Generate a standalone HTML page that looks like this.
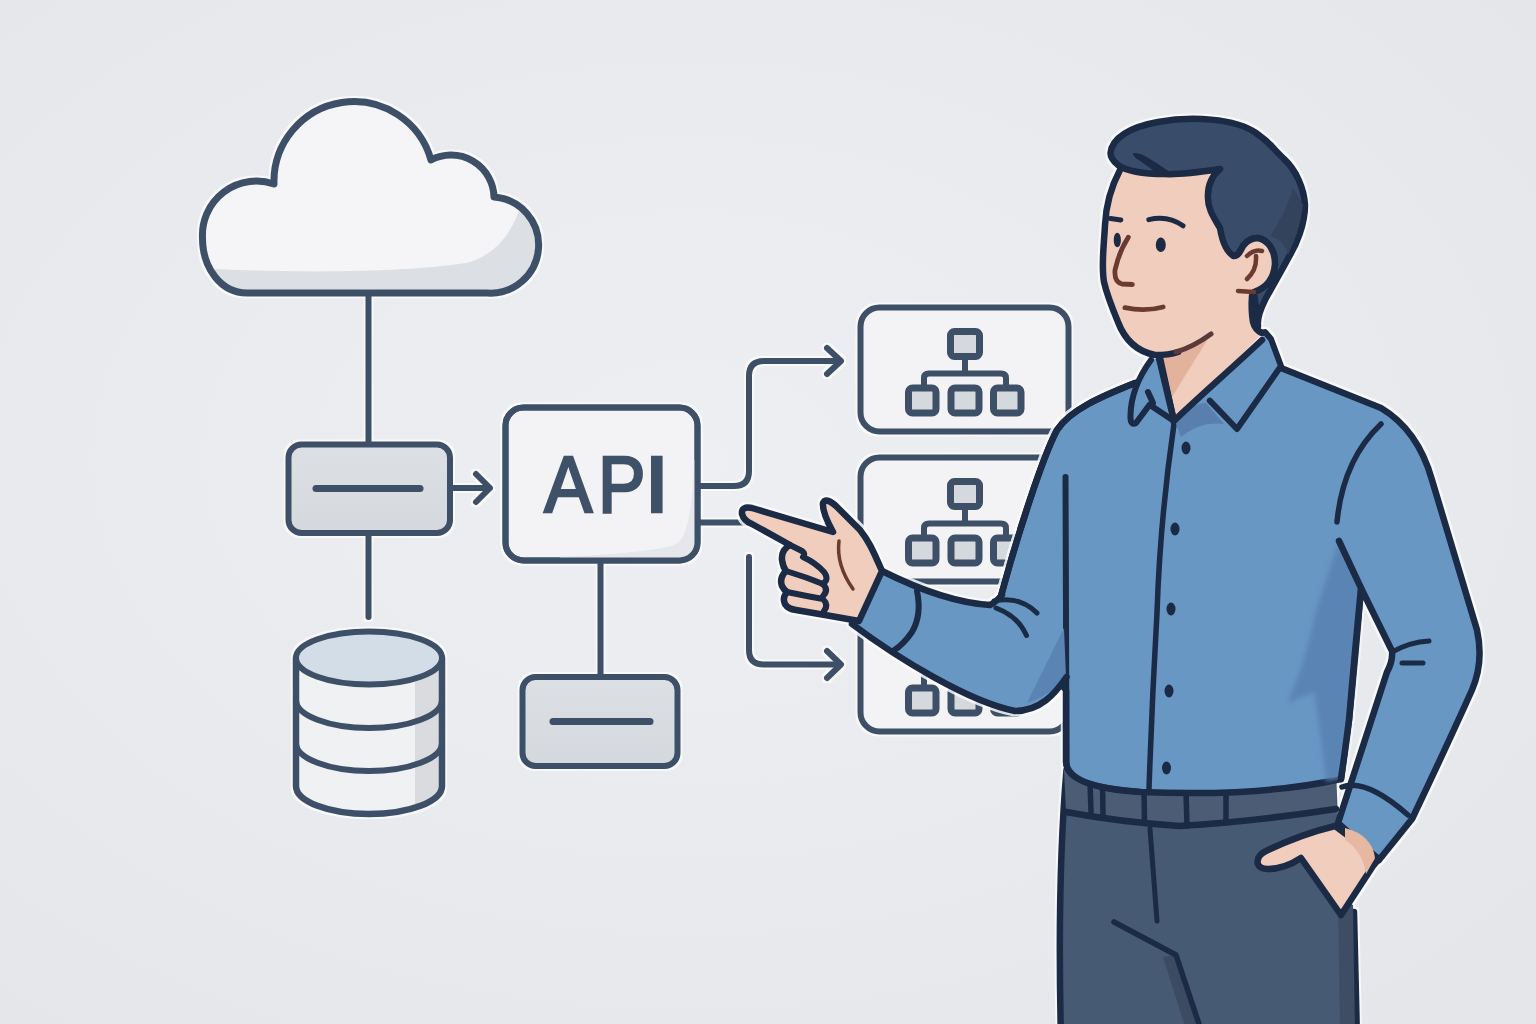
<!DOCTYPE html>
<html><head><meta charset="utf-8">
<style>
html,body{margin:0;padding:0;width:1536px;height:1024px;overflow:hidden;background:#e9eaed;}
svg{display:block;}
</style></head>
<body>
<svg width="1536" height="1024" viewBox="0 0 1536 1024">
<defs>
<radialGradient id="bg" cx="0.45" cy="0.45" r="0.75">
<stop offset="0" stop-color="#eeeff2"/>
<stop offset="1" stop-color="#e5e6ea"/>
</radialGradient>
<clipPath id="cloudclip"><path d="M247 293 C221 293 202.5 268 202.5 238 A54 54 0 0 1 274 184 A80 80 0 0 1 431 160 A43 43 0 0 1 494 197 A48 48 0 0 1 487 293 Z"/></clipPath>
<linearGradient id="graybox" x1="0" y1="0" x2="0" y2="1">
<stop offset="0" stop-color="#dcdfe3"/><stop offset="1" stop-color="#d5d8dc"/>
</linearGradient>
<clipPath id="dbclip"><path d="M296 658 L296 786 A73 28 0 0 0 442 786 L442 658 Z"/></clipPath>
<filter id="halo" x="-2%" y="-2%" width="104%" height="104%" color-interpolation-filters="sRGB">
<feMorphology in="SourceAlpha" operator="dilate" radius="1.6" result="d"/>
<feGaussianBlur in="d" stdDeviation="0.6" result="db"/>
<feFlood flood-color="#fbfbfc" flood-opacity="0.85"/>
<feComposite in2="db" operator="in" result="w"/>
<feMerge><feMergeNode in="w"/><feMergeNode in="SourceGraphic"/></feMerge>
</filter>
<clipPath id="apiclip"><rect x="505.5" y="407.5" width="192" height="153" rx="18"/></clipPath>
<filter id="soft" x="-20%" y="-20%" width="140%" height="140%"><feGaussianBlur stdDeviation="2.5"/></filter>
</defs>
<rect x="0" y="0" width="1536" height="1024" fill="url(#bg)"/>

<!-- ============ DIAGRAM ============ -->
<g fill="none" stroke="#3d5068" stroke-width="6" stroke-linecap="round" stroke-linejoin="round" filter="url(#halo)">
  <!-- cloud -->
  <path d="M247 293 C221 293 202.5 268 202.5 238 A54 54 0 0 1 274 184 A80 80 0 0 1 431 160 A43 43 0 0 1 494 197 A48 48 0 0 1 487 293 Z" fill="#f5f5f7" stroke="none"/>
  <path clip-path="url(#cloudclip)" d="M200 268 C300 274 420 272 470 262 C500 252 512 230 520 208 L560 200 L560 320 L190 320 Z" fill="#dcdfe3" stroke="none"/>
  <path d="M247 293 C221 293 202.5 268 202.5 238 A54 54 0 0 1 274 184 A80 80 0 0 1 431 160 A43 43 0 0 1 494 197 A48 48 0 0 1 487 293 Z" stroke-width="7"/>

  <!-- cloud to gray box line -->
  <line x1="368.5" y1="296" x2="368.5" y2="444"/>
  <line x1="368.5" y1="536" x2="368.5" y2="617"/>
  <!-- gray box 1 -->
  <rect x="288.5" y="444.5" width="161.5" height="88.5" rx="13" fill="url(#graybox)"/>
  <line x1="316" y1="488.5" x2="420" y2="488.5" stroke-width="7"/>
  <!-- arrow to API -->
  <line x1="453" y1="488" x2="489" y2="488"/>
  <path d="M476 474 L490 488 L476 502"/>

  <!-- database -->
  <path d="M296 658 L296 786 A73 28 0 0 0 442 786 L442 658" fill="#f0f1f3" stroke="none"/>
  <rect x="415" y="670" width="30" height="150" fill="#d9dbdf" stroke="none" clip-path="url(#dbclip)"/>
  <path d="M296 658 L296 786 A73 28 0 0 0 442 786 L442 658" fill="none" stroke-width="6.5"/>
  <ellipse cx="369" cy="658" rx="73" ry="26.5" fill="#d2dde7"/>
  <path d="M296 700 A73 28 0 0 0 442 700"/>
  <path d="M296 743 A73 28 0 0 0 442 743"/>

  <!-- API box -->
  <rect x="505.5" y="407.5" width="192" height="153" rx="18" fill="#f3f3f5"/>
  <path clip-path="url(#apiclip)" d="M694 460 Q692 532 678 543 Q665 552 560 557 L560 575 L705 575 L705 460 Z" fill="#e5e7ea" stroke="none"/>
  <rect x="505.5" y="407.5" width="192" height="153" rx="18" fill="none"/>
  <g font-family="Liberation Sans, sans-serif" font-size="80" fill="#3f5169" stroke="#3f5169" stroke-width="2.6" stroke-linejoin="miter">
    <text transform="translate(543.2 511.5) scale(0.9 1)" x="1.3" y="0">A</text>
    <text transform="translate(602.8 511.5) scale(0.89 1)" x="-5.5" y="0">P</text>
    <text transform="translate(651 511.5) scale(1.15 1)" x="-6" y="0">I</text>
  </g>
  <line x1="600.5" y1="563" x2="600.5" y2="676"/>
  <rect x="522.5" y="677" width="155" height="89" rx="13" fill="url(#graybox)"/>
  <line x1="553" y1="721.5" x2="650" y2="721.5" stroke-width="7"/>

  <!-- connectors right -->
  <path d="M700 486 L734 486 Q749 486 749 471 L749 376 Q749 361 764 361 L840 361"/>
  <path d="M827 348 L841 361 L827 374"/>
  <line x1="700" y1="522.5" x2="750" y2="522.5"/>
  <path d="M749 557 L749 650 Q749 664.5 764 664.5 L840 664.5"/>
  <path d="M827 651 L841 664.5 L827 678"/>

  <!-- org boxes -->
  <g id="orgbox">
    <rect x="860.5" y="307.5" width="208" height="124" rx="19" fill="#f3f3f5"/>
    <rect x="950.5" y="331.5" width="29" height="25" rx="4" fill="#d5d9de" stroke-width="7"/>
    <path d="M965 357 L965 373.5 M924 388 L924 378 Q924 373.5 929 373.5 L1001 373.5 Q1006 373.5 1006 378 L1006 388" />
    <rect x="908.5" y="388" width="27.5" height="25" rx="4" fill="#d5d9de" stroke-width="7"/>
    <rect x="951" y="388" width="28" height="25" rx="4" fill="#d5d9de" stroke-width="7"/>
    <rect x="993.5" y="388" width="27.5" height="25" rx="4" fill="#d5d9de" stroke-width="7"/>
  </g>
  <use href="#orgbox" y="150"/>
  <use href="#orgbox" y="300"/>
</g>

<!-- ============ PERSON ============ -->
<g id="person" stroke="#1b2a45" stroke-width="6.5" stroke-linecap="round" stroke-linejoin="round" filter="url(#halo)">
  <!-- pants -->
  <path d="M1336 770 L1340 868 Q1345 880 1354 912 L1357 1040 L1061 1040 Q1057 880 1066.5 770" fill="#475a73" stroke="none"/>
  <path d="M1354 912 L1357 1040 M1061 1040 Q1057 880 1066.5 770" fill="none"/>
  <path d="M1163 957 L1176 955 L1201 1030 L1186 1030 Z" fill="#3c4b61" stroke="none"/>
  <path d="M1338 900 L1340 1030 L1355 1030 L1353 905 Z" fill="#3e4d63" stroke="none"/>
  <!-- belt -->
  <path d="M1064 770 L1336 770 L1336 809 Q1250 822 1179 826 Q1120 822 1066 812 Z" fill="#4b5c74" stroke="none"/>
  <path d="M1066 812 Q1120 822 1179 826 Q1250 822 1336 809" fill="none"/>
  <path d="M1090 782 L1091 812 M1102.5 785 L1103 816 M1144 790 L1144.5 822 M1186 792 L1187 826 M1226 792 L1226 822" fill="none" stroke-width="5.5"/>
  <path d="M1150 829 L1157 921" fill="none" stroke-width="5"/>
  <path d="M1114 922 L1176 955 L1201 1030" fill="none" stroke-width="5.5"/>

  <!-- torso + right arm -->
  <path d="M1135 383 C1100 397 1070 410 1057 430 C1042 458 1016 540 1001 596 L994 606 L1066 690 L1066 762 C1067 780 1095 789 1141 792 Q1260 797 1341 779 Q1346 740 1349 720 Q1356 650 1361 588 L1392 651 Q1393 661 1387 672 L1338 823 L1379 860 L1412 819 Q1445 750 1472 690 Q1484 662 1477 630 L1432 480 Q1418 430 1381 408 L1281 368 Z" fill="#6897c4"/>
  <!-- torso shading -->
  <path d="M1339 541 L1361 588 Q1355 650 1349 720 Q1346 745 1341 778 L1326 781 Q1320 730 1314 692 L1287 703 Q1305 665 1316 610 Z" fill="#5a84b4" stroke="none" filter="url(#soft)"/>
  <!-- torso outline pieces -->
  <path d="M1339 541 L1361 588 Q1355 650 1349 720 Q1346 745 1341 779" fill="none"/>
  <path d="M1135 383 C1100 397 1070 410 1057 430 C1042 458 1016 540 1001 596" fill="none"/>
  <!-- seam lines -->
  <path d="M1065.5 477 L1066.5 764 C1067 780 1095 789 1141 792" fill="none" stroke-width="6"/>
  <path d="M1381 424 Q1343 460 1337 522" fill="none" stroke-width="5.5"/>
  <path d="M1174 424 Q1160 520 1157 613 Q1152 700 1149 789" fill="none" stroke-width="5.5"/>
  <!-- buttons -->
  <g fill="#1b2a45" stroke="none">
    <ellipse cx="1186" cy="448" rx="4.5" ry="6.5"/>
    <ellipse cx="1175" cy="529" rx="4.5" ry="6.5"/>
    <ellipse cx="1171" cy="609" rx="4.5" ry="6.5"/>
    <ellipse cx="1169" cy="691" rx="4.5" ry="6.5"/>
    <ellipse cx="1166.5" cy="768" rx="4.5" ry="6.5"/>
  </g>
  <!-- right cuff -->
  <path d="M1342 787 Q1366 778 1408 815" fill="none" stroke-width="5.5"/>
  <path d="M1392 652 Q1410 642 1429 641 M1402 663 L1423 663" fill="none" stroke-width="5"/>

  <!-- pocket hand -->
  <path d="M1335 826 C1310 832 1285 842 1268 850 C1254 856 1254 869 1268 869 C1281 869 1292 864 1301 858 L1341 915 L1373 866 L1379 859 Z" fill="#f0cdbc"/>
  <path d="M1345 828 Q1372 835 1375 858 L1366 874 Q1362 850 1345 840 Z" fill="#e6b8a2" stroke="none"/>

  <!-- pointing arm -->
  <path d="M882 571 C918 589 957 603 990 605 L1002 595 L1063 600 L1063 681 C1052 697 1038 711 1015 711 C970 702 900 660 852 624 Z" fill="#6897c4" stroke="none"/>
  <path d="M1064 628 L1066 677 Q1050 696 1027 703 Z" fill="#5a84b4" stroke="none"/>
  <path d="M882 571 C918 589 957 603 990 605 Q996 602 1002 595" fill="none"/>
  <path d="M1066.5 677 C1055 694 1040 711 1015 711 C970 702 900 660 852 624" fill="none"/>
  <path d="M917 591 Q922 615 912 632 Q903 645 893 651" fill="none" stroke-width="6"/>
  <path d="M994 601 Q1020 596 1037 613 M996 608 Q1018 616 1026.5 635.5" fill="none" stroke-width="5"/>

  <!-- pointing hand -->
  <path d="M882 571 C872 548 868 540 860 530 L836 506 Q826 497 823 503 Q822 512 833 532 L752 508 Q741 506 742 514 Q744 521 752 524 L790 545 Q781 550 782 560 Q783 567 786 571 Q779 578 782 586 Q784 590 787 592 Q782 598 785 604 Q788 609 796 610 L825 615 L859 621 Z" fill="#f0cdbc"/>
  <path d="M790 545 L802 551 Q806 554 803 557 Q816 563 824 572 Q830 580 822 584 M786 571 Q806 577 823 584 Q829 590 823 596 M787 592 Q806 596 823 599 Q829 605 824 611" fill="none" stroke-width="6"/>
  <path d="M839 541 Q836 565 853 589" fill="none" stroke="#6b3b32" stroke-width="3.5"/>

  <!-- neck & face skin -->
  <path d="M1120 170 C1112 185 1106 205 1105 225 C1104 245 1101 265 1104 282 C1107 295 1113 310 1118 322 C1124 338 1135 351 1155 355 L1160 358 L1174 422 L1262 334 L1253 320 L1252 292 L1232 256 L1222 168 Z" fill="#f0cdbc" stroke="none"/>
  <path d="M1161 357 L1211 334 L1172 397 Z" fill="#e2b29d" stroke="none"/>
  <path d="M1120 170 C1112 185 1106 205 1105 225 C1104 245 1101 265 1104 282 C1107 295 1113 310 1118 322 C1124 338 1135 351 1155 355 C1165 355 1172 354 1178 352" fill="none"/>
  <path d="M1176 352 C1190 348 1200 342 1211 334" fill="none" stroke="#5b3a3a" stroke-width="5"/>
  <path d="M1160 358 L1174 422" fill="none"/>
  <path d="M1252 296 Q1251 310 1253 322 Q1255 330 1262 333" fill="none"/>
  <!-- hair -->
  <path d="M1110.5 153 C1112 138 1130 127 1158 122 C1190 116 1235 118 1256 133 C1266 140 1272 146 1277 152 L1284 159 C1296 170 1304 188 1305 205 C1305 225 1296 245 1290 255 C1282 270 1272 287 1265 300 C1260 310 1257 318 1258 326 L1254 292 C1266 288 1274 278 1275 264 C1275 250 1268 240 1258 238 C1250 238 1246 242 1243 246 C1240 252 1238 256 1234 256 C1226 252 1222 240 1220 228 C1214 218 1207 208 1208 195 C1208 184 1212 176 1220 169 C1200 172 1180 175 1165 174 C1145 174 1128 172 1118 165 C1113 161 1110.5 157 1110.5 153 Z" fill="#394d6a"/>
  <path d="M1293 188 Q1285 215 1270 236 Q1285 240 1288 255 Q1300 230 1303 205 Z" fill="#33435c" stroke="none"/>
  <path d="M1134 154 Q1139 153 1150 160 Q1160 166 1168 172 L1160 174 Q1146 164 1136 157 Z" fill="#1b2a45" stroke-width="2"/>
  <!-- ear -->
  <path d="M1234 256 C1238 256 1240 252 1243 246 C1246 242 1250 238 1258 238 C1268 240 1275 250 1275 264 C1274 278 1266 288 1254 292 L1240 292 Z" fill="#f0cdbc" stroke="none"/>
  <path d="M1234 256 C1238 256 1240 252 1243 246 C1246 242 1250 238 1258 238 C1268 240 1275 250 1275 264 C1274 278 1266 288 1254 292" fill="none"/>
  <path d="M1247 256 Q1254 249 1262 251 M1256 256 Q1257 270 1247 279 M1238 291 L1254 292" fill="none" stroke="#6b3b32" stroke-width="4.5"/>
  <!-- face features -->
  <ellipse cx="1117.3" cy="240" rx="3.6" ry="7.3" fill="#1b2a45" stroke="none"/>
  <ellipse cx="1160.8" cy="244.8" rx="5" ry="7.3" fill="#1b2a45" stroke="none"/>
  <path d="M1110.5 218.5 L1120.8 220 M1148.8 219.6 Q1168 215 1183 225.8" fill="none" stroke-width="5"/>
  <path d="M1128.3 237.3 Q1119 252 1115 270 Q1114 282 1122 284 L1132.4 284.5" fill="none" stroke="#6b3b32" stroke-width="4.8"/>
  <path d="M1124.9 307.7 Q1145 312 1163.1 307" fill="none" stroke="#6b3b32" stroke-width="4.8"/>

  <!-- collars -->
  <path d="M1151 360 C1140 375 1131 395 1130.5 415 Q1130 426 1136 423 L1149.6 404.7 L1174 421 L1159 358 Z" fill="#6897c4" stroke="none"/>
  <path d="M1151 360 C1140 375 1131 395 1130.5 415 Q1130 426 1136 423 L1149.6 404.7 L1174 421 M1148 392 L1153 403" fill="none" stroke-width="6"/>
  <path d="M1159 358 L1174 421" fill="none"/>
  <path d="M1174 421 C1190 405 1230 370 1262 340 L1265 332 L1271 339 L1281 366 L1237 429 L1210 400 C1195 405 1185 412 1174 421 Z" fill="#6897c4" stroke="none"/>
  <path d="M1175 421 Q1190 404 1206 403 L1224 424 Q1200 421 1181 437 Z" fill="#587fae" stroke="none"/>
  <path d="M1174 421 C1190 405 1230 370 1262 340" fill="none"/>
  <path d="M1256 324 Q1258 335 1265 332 L1271 339 L1281 366 L1237 429 L1209.8 400.6" fill="none" stroke-width="6"/>
</g>
</svg>
</body></html>
